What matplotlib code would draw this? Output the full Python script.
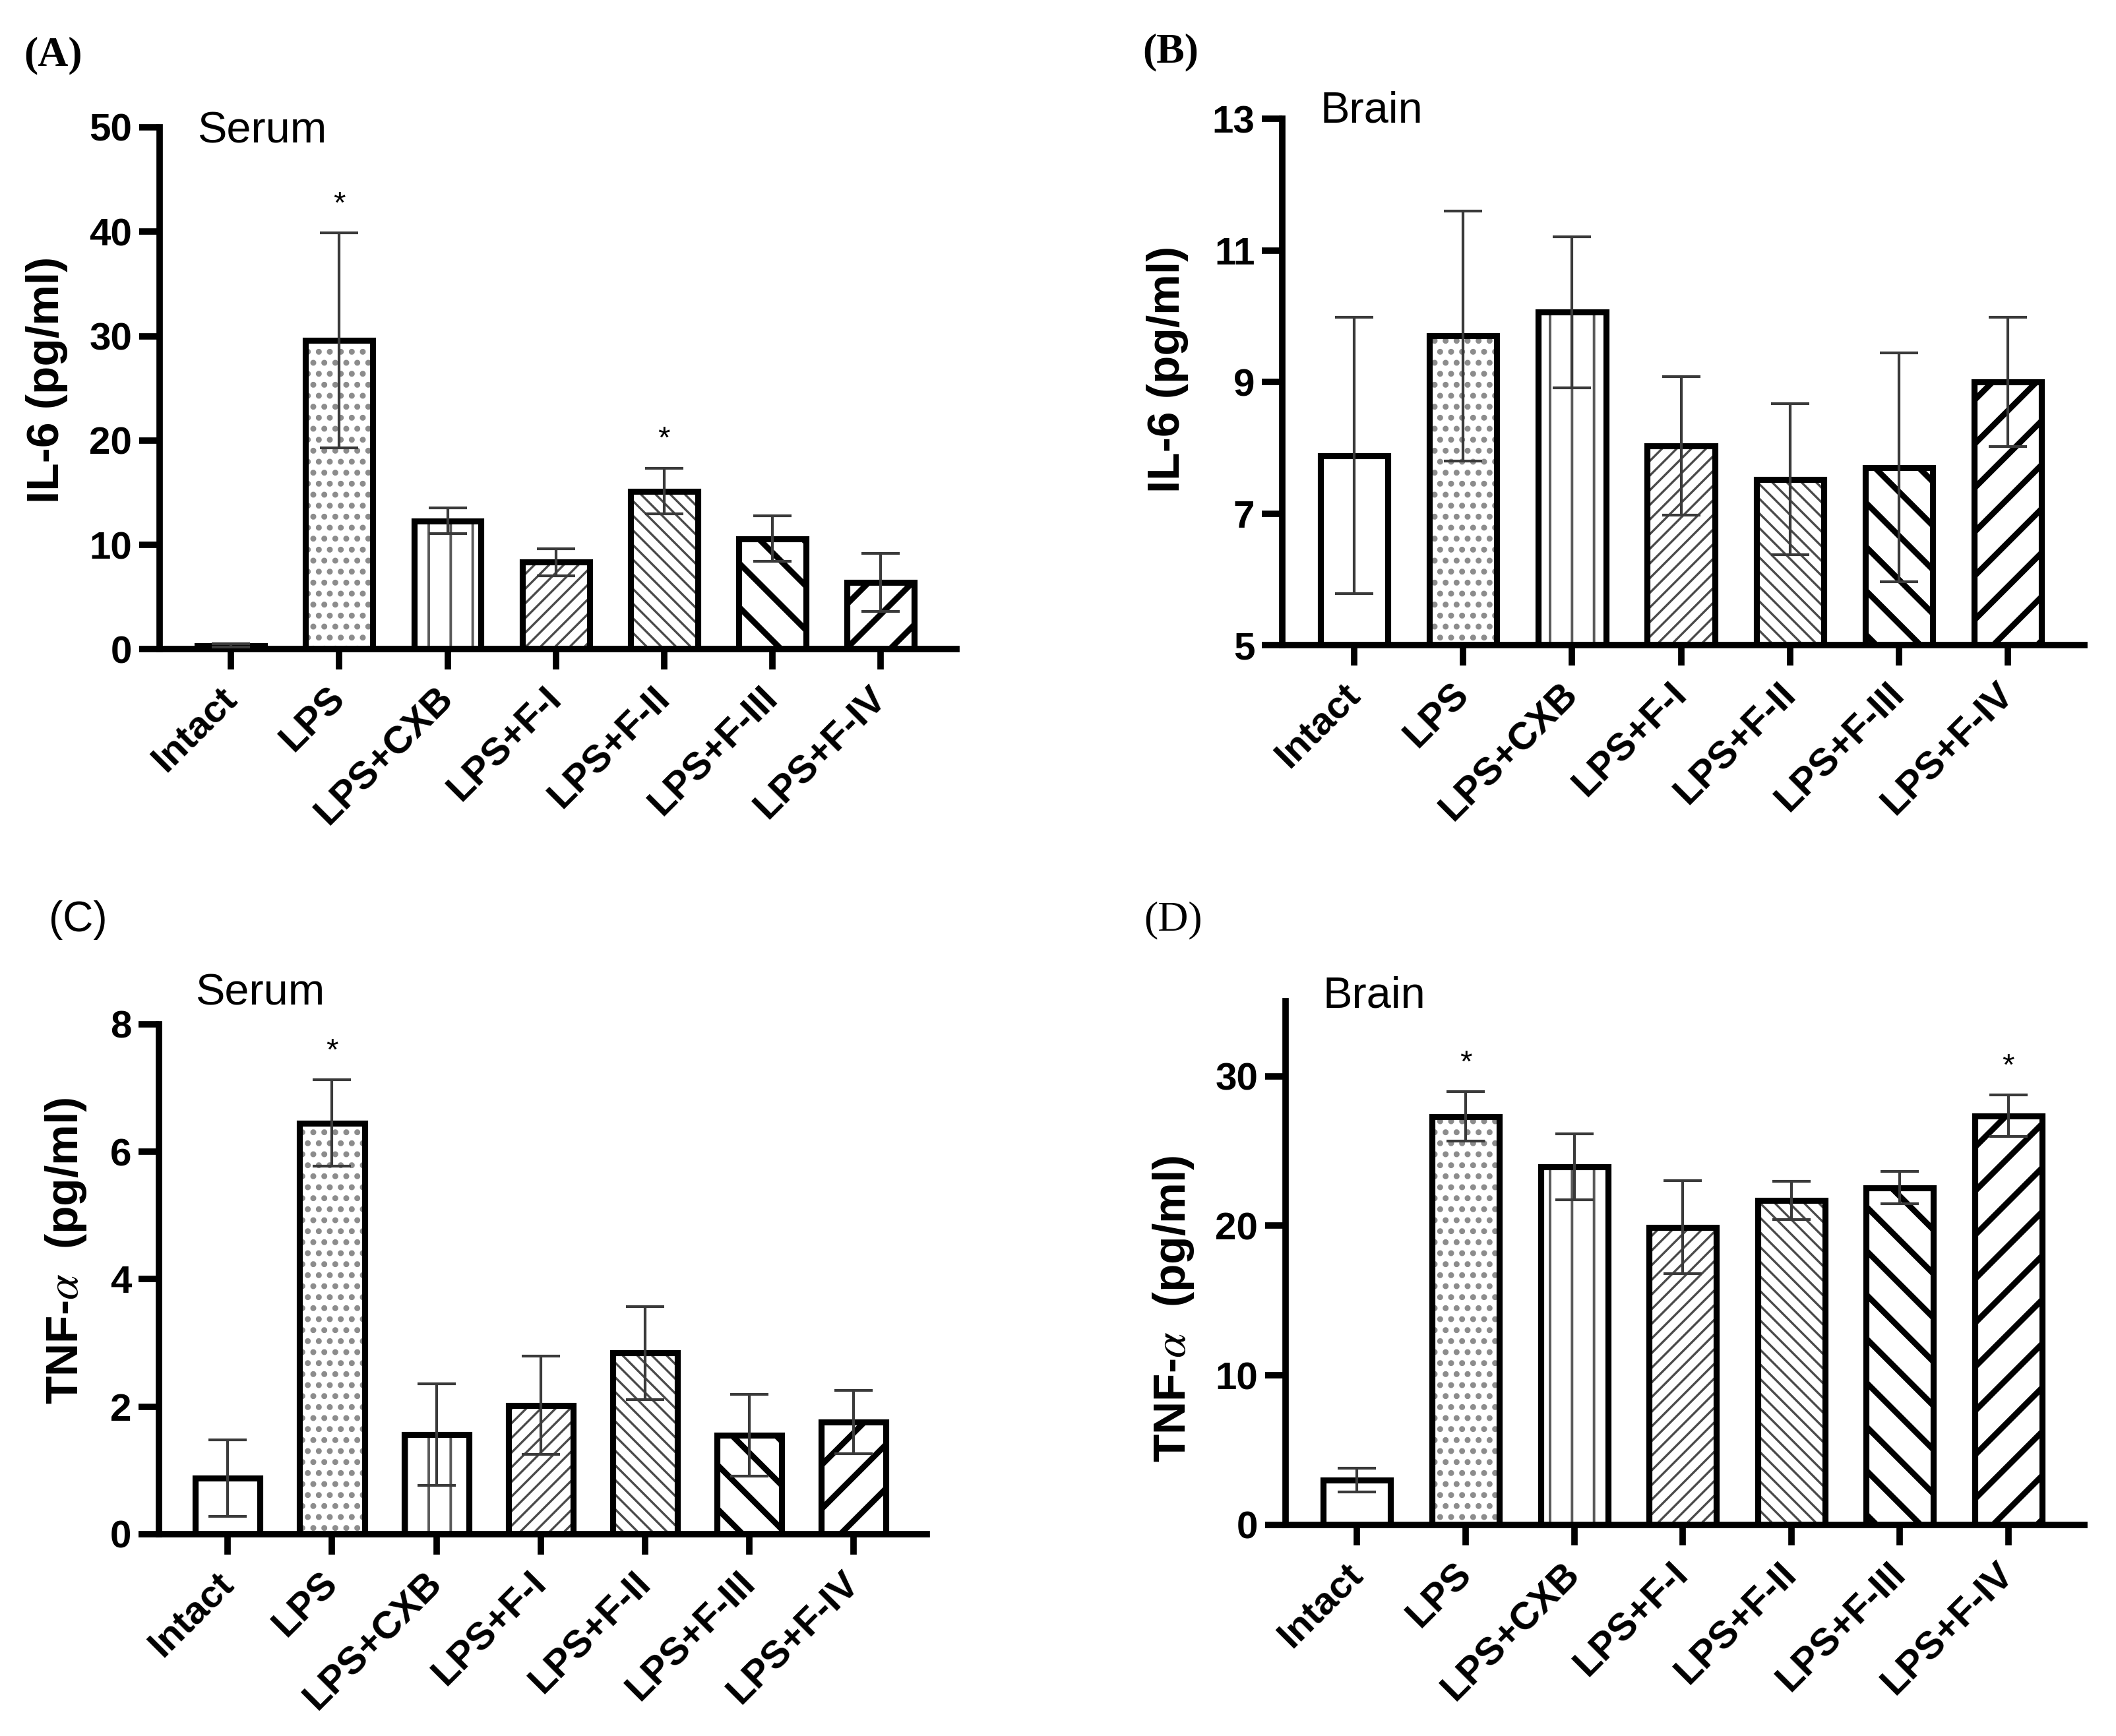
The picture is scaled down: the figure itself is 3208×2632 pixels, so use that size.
import matplotlib
matplotlib.use('Agg')
import matplotlib.pyplot as plt
import matplotlib.transforms as mtransforms
import numpy as np

plt.rcParams['font.family'] = ['Liberation Sans', 'DejaVu Sans']
plt.rcParams['mathtext.fontset'] = 'stix'

#################################################
groups = ['Intact', 'LPS', 'LPS+CXB', 'LPS+F-I', 'LPS+F-II', 'LPS+F-III', 'LPS+F-IV']

il6_serum = [0.35, 29.6, 12.3, 8.35, 15.15, 10.6, 6.4]
il6_serum_sd = [0.15, 10.3, 1.25, 1.3, 2.2, 2.2, 2.8]
il6_serum_star = [1, 4]

il6_brain = [7.88, 9.7, 10.06, 8.03, 7.52, 7.7, 9.0]
il6_brain_sd = [2.1, 1.9, 1.15, 1.05, 1.15, 1.74, 0.98]
il6_brain_star = []

tnf_serum = [0.88, 6.45, 1.56, 2.02, 2.84, 1.55, 1.76]
tnf_serum_sd = [0.6, 0.68, 0.8, 0.77, 0.73, 0.64, 0.5]
tnf_serum_star = [1]

tnf_brain = [3.0, 27.3, 23.95, 19.9, 21.7, 22.55, 27.35]
tnf_brain_sd = [0.8, 1.65, 2.2, 3.1, 1.27, 1.1, 1.4]
tnf_brain_star = [1, 6]

# hatch pattern, hatch colour, hatch linewidth per group
hatches = ['', '..', '|', '///', '\\\\\\', '\\', '/']
hatch_cols = ['k', '#8c8c8c', '#5a5a5a', '#4a4a4a', '#4a4a4a', 'k', 'k']
hatch_lws = [1, 2.0, 1.4, 1.2, 1.2, 3.2, 3.2]

#################################################
fig = plt.figure(figsize=(16.04, 13.16), dpi=200)


def panel(rect, vals, sds, stars, ylim, yticks, ylabel, title, title_y, lab_x, lab_y):
    ax = fig.add_axes(rect)
    x = np.arange(len(groups))
    base = ylim[0]
    h = np.array(vals) - base
    for i in range(len(groups)):
        with plt.rc_context({'hatch.linewidth': hatch_lws[i]}):
            b = ax.bar(x[i], h[i], bottom=base, width=0.62, color='white',
                       edgecolor=hatch_cols[i], linewidth=0, hatch=hatches[i], zorder=2)
        for p in b:
            if hasattr(p, 'set_hatch_linewidth'):
                p.set_hatch_linewidth(hatch_lws[i])
    ax.bar(x, h, bottom=base, width=0.62, fill=False, edgecolor='k', linewidth=3.3, zorder=3)
    ax.errorbar(x, vals, yerr=sds, fmt='none', ecolor='#3a3a3a', elinewidth=1.5,
                capsize=10.5, capthick=1.5, zorder=4)
    for s in stars:
        ax.annotate('*', xy=(x[s], vals[s] + sds[s]), xytext=(0, 11), textcoords='offset points',
                    ha='center', va='baseline', fontsize=17)
    ax.set_ylim(ylim)
    ax.set_xlim(-0.66, 6.7)
    ax.set_yticks(yticks)
    ax.set_xticks(x)
    ax.set_xticklabels(groups, rotation=45, ha='right', va='center', rotation_mode='anchor',
                       fontsize=21, fontweight='bold')
    shift = mtransforms.ScaledTranslation(5 / 72, 0, fig.dpi_scale_trans)
    for t in ax.get_xticklabels():
        t.set_transform(t.get_transform() + shift)
    for t in ax.get_yticklabels():
        t.set_fontsize(21)
        t.set_fontweight('bold')
    for side in ['top', 'right']:
        ax.spines[side].set_visible(False)
    for side in ['left', 'bottom']:
        ax.spines[side].set_linewidth(3.5)
    ax.tick_params(width=3.5, length=11, pad=4)
    ax.tick_params(axis='x', pad=13)
    ax.set_ylabel(ylabel, fontsize=25, fontweight='bold')
    ax.yaxis.set_label_coords(lab_x, lab_y)
    ax.text(0.047, title_y, title, transform=ax.transAxes, fontsize=24, va='center', ha='left')
    return ax


panel([0.0754, 0.626, 0.3766, 0.3007], il6_serum, il6_serum_sd, il6_serum_star,
      (0, 50), [0, 10, 20, 30, 40, 50], 'IL-6 (pg/ml)', 'Serum', 0.992, -0.115, 0.516)
panel([0.606, 0.6284, 0.379, 0.3032], il6_brain, il6_brain_sd, il6_brain_star,
      (5, 13), [5, 7, 9, 11, 13], 'IL-6 (pg/ml)', 'Brain', 1.014, -0.117, 0.524)
panel([0.0751, 0.1163, 0.3629, 0.2937], tnf_serum, tnf_serum_sd, tnf_serum_star,
      (0, 8), [0, 2, 4, 6, 8], r'TNF-$\alpha$  (pg/ml)', 'Serum', 1.06, -0.092, 0.556)
panel([0.6075, 0.1216, 0.3775, 0.3016], tnf_brain, tnf_brain_sd, tnf_brain_star,
      (0, 35), [0, 10, 20, 30], r'TNF-$\alpha$  (pg/ml)', 'Brain', 1.009, -0.112, 0.413)

# panel letters
fig.text(0.0112, 0.968, '(A)', fontsize=23, family='Liberation Serif', fontweight='bold', va='center')
fig.text(0.540, 0.970, '(B)', fontsize=23, family='Liberation Serif', fontweight='bold', va='center')
fig.text(0.023, 0.470, '(C)', fontsize=23, va='center')
fig.text(0.5405, 0.470, '(D)', fontsize=23, family='Liberation Serif', va='center')

plt.savefig('out.png', dpi=200)
